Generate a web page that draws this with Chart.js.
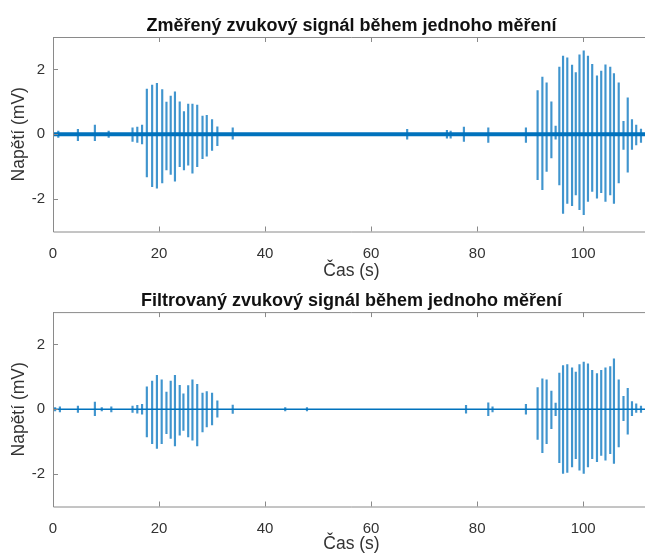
<!DOCTYPE html>
<html>
<head>
    <title>Zvukový signál</title>
    <style>
        body {
            margin: 0;
            background: #fff;
            overflow: hidden;
            font-family: "Liberation Sans", Arial, sans-serif;
        }
        .plot {
            position: absolute;
            left: 0;
        }
    </style>
    <script src="https://cdn.jsdelivr.net/npm/chart.js"></script>
</head>
<body>
    <div class="plot" style="top:0px"><canvas id="rawChart" width="650" height="283"></canvas></div>
    <div class="plot" style="top:283px"><canvas id="filtChart" width="650" height="272"></canvas></div>

    <script>
        // spikes of the measured signal: time (s), upper and lower peak (mV)
        const rawTimes = [1.0, 4.7, 7.9, 10.5, 15.0, 15.9, 16.8,
            17.7, 18.7, 19.6, 20.6, 21.4, 22.2, 23.0, 23.9, 24.7, 25.5, 26.3, 27.2, 28.2, 29.0, 30.0, 31.0, 33.9,
            66.8, 74.3, 75.0, 77.5, 82.1, 89.2,
            91.4, 92.3, 93.1, 94.0, 94.8, 95.5, 96.2, 97.0, 97.9, 98.6, 99.3, 100.1, 100.9, 101.7, 102.6,
            103.4, 104.2, 105.1, 105.8, 106.7, 107.6, 108.4, 109.2, 110.0, 110.9];
        const rawHigh = [0.1, 0.15, 0.28, 0.1, 0.2, 0.22, 0.28,
            1.39, 1.52, 1.57, 1.38, 0.99, 1.18, 1.31, 1.0, 0.7, 0.93, 0.93, 0.9, 0.56, 0.58, 0.45, 0.23, 0.2,
            0.15, 0.12, 0.1, 0.22, 0.2, 0.2,
            1.35, 1.76, 1.59, 1.0, 0.25, 2.07, 2.41, 2.36, 2.13, 1.9, 2.45, 2.57, 2.41, 2.16, 1.8,
            1.95, 2.14, 2.07, 1.87, 1.59, 0.4, 1.12, 0.45, 0.28, 0.16];
        const rawLow = [-0.1, -0.2, -0.2, -0.1, -0.22, -0.25, -0.3,
            -1.32, -1.62, -1.66, -1.5, -1.1, -1.24, -1.45, -1.0, -1.1, -0.95, -1.2, -1.0, -0.75, -0.68, -0.5, -0.35, -0.15,
            -0.15, -0.12, -0.12, -0.22, -0.25, -0.25,
            -1.4, -1.71, -1.15, -0.73, -0.15, -1.56, -2.44, -2.13, -2.2, -1.87, -2.33, -2.48, -2.07, -1.76, -1.97,
            -1.8, -2.07, -1.87, -2.13, -1.5, -0.47, -1.17, -0.47, -0.33, -0.25];

        // spikes of the filtered signal
        const filtTimes = [0.4, 1.3, 4.7, 7.9, 9.2, 11.0, 15.0, 15.9, 16.8,
            17.7, 18.7, 19.6, 20.5, 21.4, 22.2, 23.0, 23.9, 24.6, 25.5, 26.3, 27.2, 28.2, 29.0, 30.0, 31.0, 33.9,
            43.8, 47.9, 77.9, 82.1, 82.9, 89.2,
            91.4, 92.3, 93.1, 94.0, 94.8, 95.5, 96.2, 97.0, 97.9, 98.6, 99.3, 100.1, 100.9, 101.7, 102.6,
            103.4, 104.2, 105.1, 105.8, 106.7, 107.6, 108.4, 109.2, 110.0, 110.9];
        const filtHigh = [0.05, 0.08, 0.1, 0.22, 0.05, 0.08, 0.1, 0.12, 0.15,
            0.69, 0.87, 1.05, 0.91, 0.53, 0.87, 1.05, 0.74, 0.48, 0.73, 0.91, 0.77, 0.5, 0.55, 0.5, 0.26, 0.13,
            0.05, 0.05, 0.12, 0.2, 0.08, 0.15,
            0.67, 0.94, 0.91, 0.56, 0.19, 1.12, 1.35, 1.38, 1.28, 1.15, 1.38, 1.46, 1.4, 1.2, 1.1,
            1.2, 1.28, 1.32, 1.56, 0.91, 0.4, 0.65, 0.24, 0.17, 0.1];
        const filtLow = [-0.05, -0.08, -0.1, -0.2, -0.05, -0.08, -0.1, -0.12, -0.15,
            -0.85, -1.06, -1.21, -1.06, -0.75, -0.9, -1.13, -0.8, -0.65, -0.85, -0.95, -1.13, -0.7, -0.54, -0.48, -0.24, -0.13,
            -0.05, -0.05, -0.12, -0.2, -0.08, -0.15,
            -0.93, -1.34, -1.06, -0.6, -0.2, -1.65, -1.98, -1.95, -1.78, -1.52, -1.88, -1.98, -1.78, -1.52, -1.62,
            -1.42, -1.57, -1.37, -1.67, -1.16, -0.35, -0.77, -0.2, -0.1, -0.1];

        // zero line of the signal
        const baseTimes = [0, 112.6];
        const baseValues = [0, 0];

        const xTicks = [0, 20, 40, 60, 80, 100];
        const yTicks = [-2, 0, 2];
        const xMin = 0, xMax = 112.6;
        const yMin = -3, yMax = 3;

        const blue = '#0072BD';
        const axisColor = '#8a8a8a';
        const textColor = '#333333';

        // MATLAB-like box with inward ticks
        const boxPlugin = {
            id: 'box',
            afterDatasetsDraw(chart) {
                const ctx = chart.ctx;
                const a = chart.chartArea;
                const x = chart.scales.x;
                const y = chart.scales.y;
                ctx.save();
                ctx.strokeStyle = axisColor;
                ctx.lineWidth = 1;
                ctx.beginPath();
                ctx.moveTo(a.left + 0.5, a.top + 0.5);
                ctx.lineTo(a.right, a.top + 0.5);
                ctx.moveTo(a.left + 0.5, a.top);
                ctx.lineTo(a.left + 0.5, a.bottom + 0.5);
                ctx.lineTo(a.right, a.bottom + 0.5);
                x.ticks.forEach(t => {
                    const px = Math.round(x.getPixelForValue(t.value)) + 0.5;
                    ctx.moveTo(px, a.bottom);
                    ctx.lineTo(px, a.bottom - 5);
                    ctx.moveTo(px, a.top);
                    ctx.lineTo(px, a.top + 5);
                });
                y.ticks.forEach(t => {
                    const py = Math.round(y.getPixelForValue(t.value)) + 0.5;
                    ctx.moveTo(a.left, py);
                    ctx.lineTo(a.left + 5, py);
                });
                ctx.stroke();
                ctx.restore();
            }
        };

        function makeChart(id, title, times, high, low, baseWidth, titlePad, xHeight, xTitlePad) {
            const spikes = times.map((t, i) => ({ x: t, y: [low[i], high[i]] }));
            const base = baseTimes.map((t, i) => ({ x: t, y: baseValues[i] }));
            return new Chart(document.getElementById(id), {
                type: 'bar',
                data: {
                    datasets: [{
                        type: 'line',
                        data: base,
                        borderColor: blue,
                        borderWidth: baseWidth,
                        pointRadius: 0,
                        order: 0
                    }, {
                        data: spikes,
                        backgroundColor: 'rgba(0, 114, 189, 0.75)',
                        barThickness: 1.5,
                        order: 1
                    }]
                },
                options: {
                    responsive: false,
                    animation: false,
                    events: [],
                    layout: { padding: 0 },
                    plugins: {
                        legend: { display: false },
                        tooltip: { enabled: false },
                        title: {
                            display: true,
                            text: title,
                            fullSize: false,
                            color: '#111',
                            font: { family: 'Liberation Sans', size: 18, weight: 'bold' },
                            padding: titlePad
                        }
                    },
                    scales: {
                        x: {
                            type: 'linear',
                            min: xMin,
                            max: xMax,
                            offset: false,
                            grid: { display: false, offset: false },
                            border: { display: false },
                            afterBuildTicks: s => { s.ticks = xTicks.map(v => ({ value: v })); },
                            afterFit: s => { s.height = xHeight; },
                            ticks: {
                                color: textColor,
                                font: { family: 'Liberation Sans', size: 15 },
                                padding: 5,
                                maxRotation: 0
                            },
                            title: {
                                display: true,
                                text: 'Čas (s)',
                                color: textColor,
                                font: { family: 'Liberation Sans', size: 17.5 },
                                padding: { top: 0, bottom: xTitlePad }
                            }
                        },
                        y: {
                            min: yMin,
                            max: yMax,
                            grid: { display: false },
                            border: { display: false },
                            afterBuildTicks: s => { s.ticks = yTicks.map(v => ({ value: v })); },
                            afterFit: s => { s.width = 53; },
                            ticks: {
                                color: textColor,
                                font: { family: 'Liberation Sans', size: 15 },
                                padding: 0
                            },
                            title: {
                                display: true,
                                text: 'Napětí (mV)',
                                color: textColor,
                                font: { family: 'Liberation Sans', size: 17.5 },
                                padding: { top: 9, bottom: 0 }
                            }
                        }
                    }
                },
                plugins: [boxPlugin]
            });
        }

        makeChart('rawChart', 'Změřený zvukový signál během jednoho měření',
            rawTimes, rawHigh, rawLow, 4, { top: 14.9, bottom: 0.5 }, 51.5, 1.5);
        makeChart('filtChart', 'Filtrovaný zvukový signál během jednoho měření',
            filtTimes, filtHigh, filtLow, 1.5, { top: 6.9, bottom: 0.6 }, 48.5, 0);
    </script>
</body>
</html>
